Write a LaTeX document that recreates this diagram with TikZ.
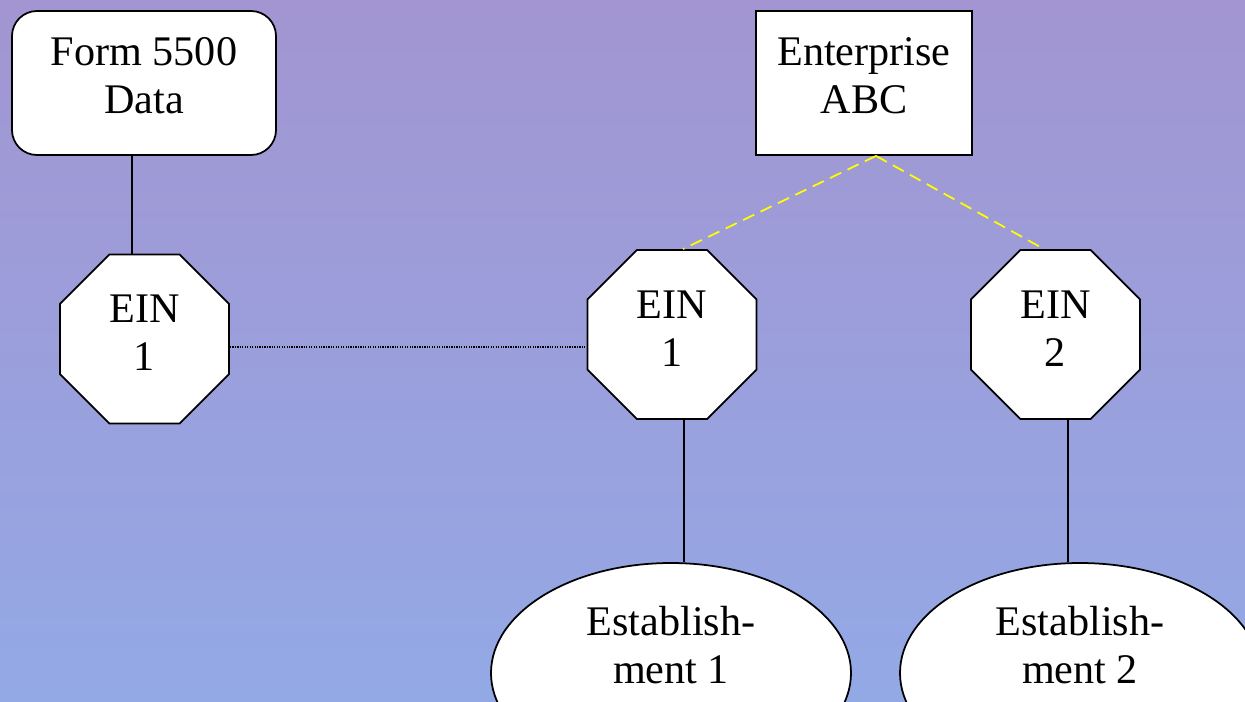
\documentclass[tikz,border=0pt]{standalone}
\usepackage{fontspec}
\setmainfont{Liberation Serif}
\usetikzlibrary{shapes.geometric}
\definecolor{bgtop}{HTML}{A295D1}
\definecolor{bgbottom}{HTML}{93A9E6}
\definecolor{linkyellow}{HTML}{FFFF00}
\begin{document}
\begin{tikzpicture}[
        ein/.style={regular polygon, regular polygon sides=8, minimum size=3.66cm, inner sep=0pt, text depth=0.24cm},
        estab/.style={ellipse, minimum width=7.2cm, minimum height=4.4cm, inner sep=0pt, text depth=1.12cm}]

        \useasboundingbox (0,0) rectangle (24.9,-14.02);
        \shade[top color=bgtop, bottom color=bgbottom] (0,0) rectangle (24.9,-14.02);

        \begin{scope}[every node/.style={draw, fill=white, line width=1pt, align=center,
                font=\fontsize{24}{27.5}\selectfont}]
            \node[rounded corners=0.5cm, minimum width=5.28cm, minimum height=2.88cm, text depth=0.3cm] (form5500) at (2.88,-1.66) {Form 5500\\Data};
            \node[minimum width=4.32cm, minimum height=2.88cm, text depth=0.3cm] (enterprise) at (17.28,-1.66) {Enterprise\\ABC};
            \node[ein] (einA) at (2.89,-6.78) {EIN\\1};
            \node[ein] (einB) at (13.44,-6.69) {EIN\\1};
            \node[ein] (einC) at (21.11,-6.69) {EIN\\2};
            \node[estab] (est1) at (13.42,-13.46) {Establish-\\ment 1};
            \node[estab] (est2) at (21.6,-13.46) {Establish-\\ment 2};
        \end{scope}
        \begin{scope}[every path/.style={line width=1pt}]
            \path ([xshift=-0.24cm]form5500.south) edge ([xshift=-0.24cm]form5500.south |- einA.north);
            \path ([xshift=0.24cm]einB.south) edge ([xshift=0.24cm]einB.south |- est1.north);
            \path ([xshift=0.25cm]einC.south) edge ([xshift=0.25cm]einC.south |- est2.north);
            \path[line width=0.6pt, dash pattern=on 0.7pt off 0.7pt]
                ([yshift=-0.16cm]einA.east) edge ([yshift=-0.16cm]einA.east -| einB.west);
            \path[linkyellow, dash pattern=on 7pt off 4pt]
                ([xshift=0.24cm]enterprise.south) edge ([xshift=0.22cm]einB.north);
            \path[linkyellow, dash pattern=on 7pt off 4pt]
                ([xshift=0.24cm]enterprise.south) edge ([xshift=-0.23cm]einC.north);
        \end{scope}
\end{tikzpicture}
\end{document}
